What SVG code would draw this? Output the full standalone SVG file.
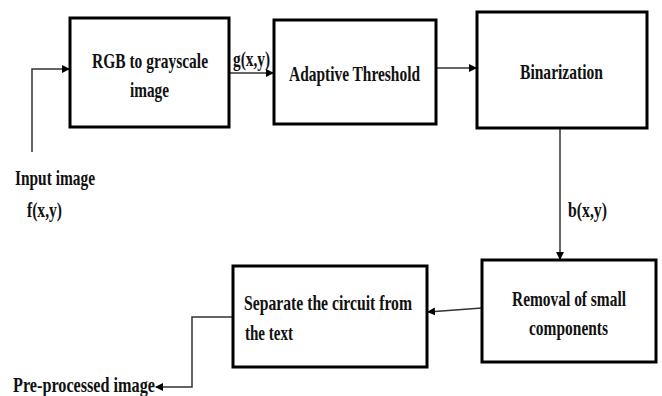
<svg xmlns="http://www.w3.org/2000/svg" width="662" height="396" viewBox="0 0 662 396">
<defs>
<style>
.box{fill:#fff;stroke:#000;stroke-width:3}
.t{font-family:"Liberation Serif","Times New Roman",serif;font-weight:bold;font-size:22px;fill:#111}
.c{fill:none;stroke:#333;stroke-width:1.5}
</style>
<marker id="ah" markerWidth="8" markerHeight="8" refX="7" refY="4" orient="auto" markerUnits="userSpaceOnUse">
<path d="M0,0 L8,4 L0,8 z" fill="#000"/>
</marker>
</defs>
<rect width="662" height="396" fill="#fff"/>
<g id="connectors">
<polyline class="c" points="32,152 32,69 69,69" marker-end="url(#ah)"/>
<line class="c" x1="229" y1="73" x2="273" y2="73" marker-end="url(#ah)"/>
<line class="c" x1="436" y1="68" x2="476" y2="68" marker-end="url(#ah)"/>
<line class="c" x1="560" y1="128" x2="560" y2="259" marker-end="url(#ah)"/>
<line class="c" x1="482" y1="308" x2="428" y2="312" marker-end="url(#ah)"/>
<polyline class="c" points="233,317 192,317 192,387 156,387" marker-end="url(#ah)"/>
</g>
<g id="rgb">
<rect class="box" x="70" y="18" width="159" height="109"/>
<text class="t" x="92" y="68" textLength="116" lengthAdjust="spacingAndGlyphs">RGB to grayscale</text>
<text class="t" x="130" y="97" textLength="39" lengthAdjust="spacingAndGlyphs">image</text>
</g>
<g id="adaptive">
<rect class="box" x="274" y="20" width="162" height="104"/>
<text class="t" x="289" y="81" textLength="131" lengthAdjust="spacingAndGlyphs">Adaptive Threshold</text>
</g>
<g id="binarization">
<rect class="box" x="477" y="12" width="170" height="116"/>
<text class="t" x="520" y="79" textLength="83" lengthAdjust="spacingAndGlyphs">Binarization</text>
</g>
<g id="removal">
<rect class="box" x="482" y="260" width="174" height="102"/>
<text class="t" x="512" y="306" textLength="114" lengthAdjust="spacingAndGlyphs">Removal of small</text>
<text class="t" x="529" y="335" textLength="79" lengthAdjust="spacingAndGlyphs">components</text>
</g>
<g id="separate">
<rect class="box" x="233" y="266" width="194" height="101"/>
<text class="t" x="244" y="310" textLength="168" lengthAdjust="spacingAndGlyphs">Separate the circuit from</text>
<text class="t" x="245" y="340" textLength="48" lengthAdjust="spacingAndGlyphs">the text</text>
</g>
<g id="labels">
<text class="t" x="233" y="66" textLength="37" lengthAdjust="spacingAndGlyphs">g(x,y)</text>
<text class="t" x="15" y="185" textLength="80" lengthAdjust="spacingAndGlyphs">Input image</text>
<text class="t" x="27" y="217" textLength="35" lengthAdjust="spacingAndGlyphs">f(x,y)</text>
<text class="t" x="568" y="217" textLength="39" lengthAdjust="spacingAndGlyphs">b(x,y)</text>
<text class="t" x="13" y="392" textLength="142" lengthAdjust="spacingAndGlyphs">Pre-processed image</text>
</g>
</svg>
